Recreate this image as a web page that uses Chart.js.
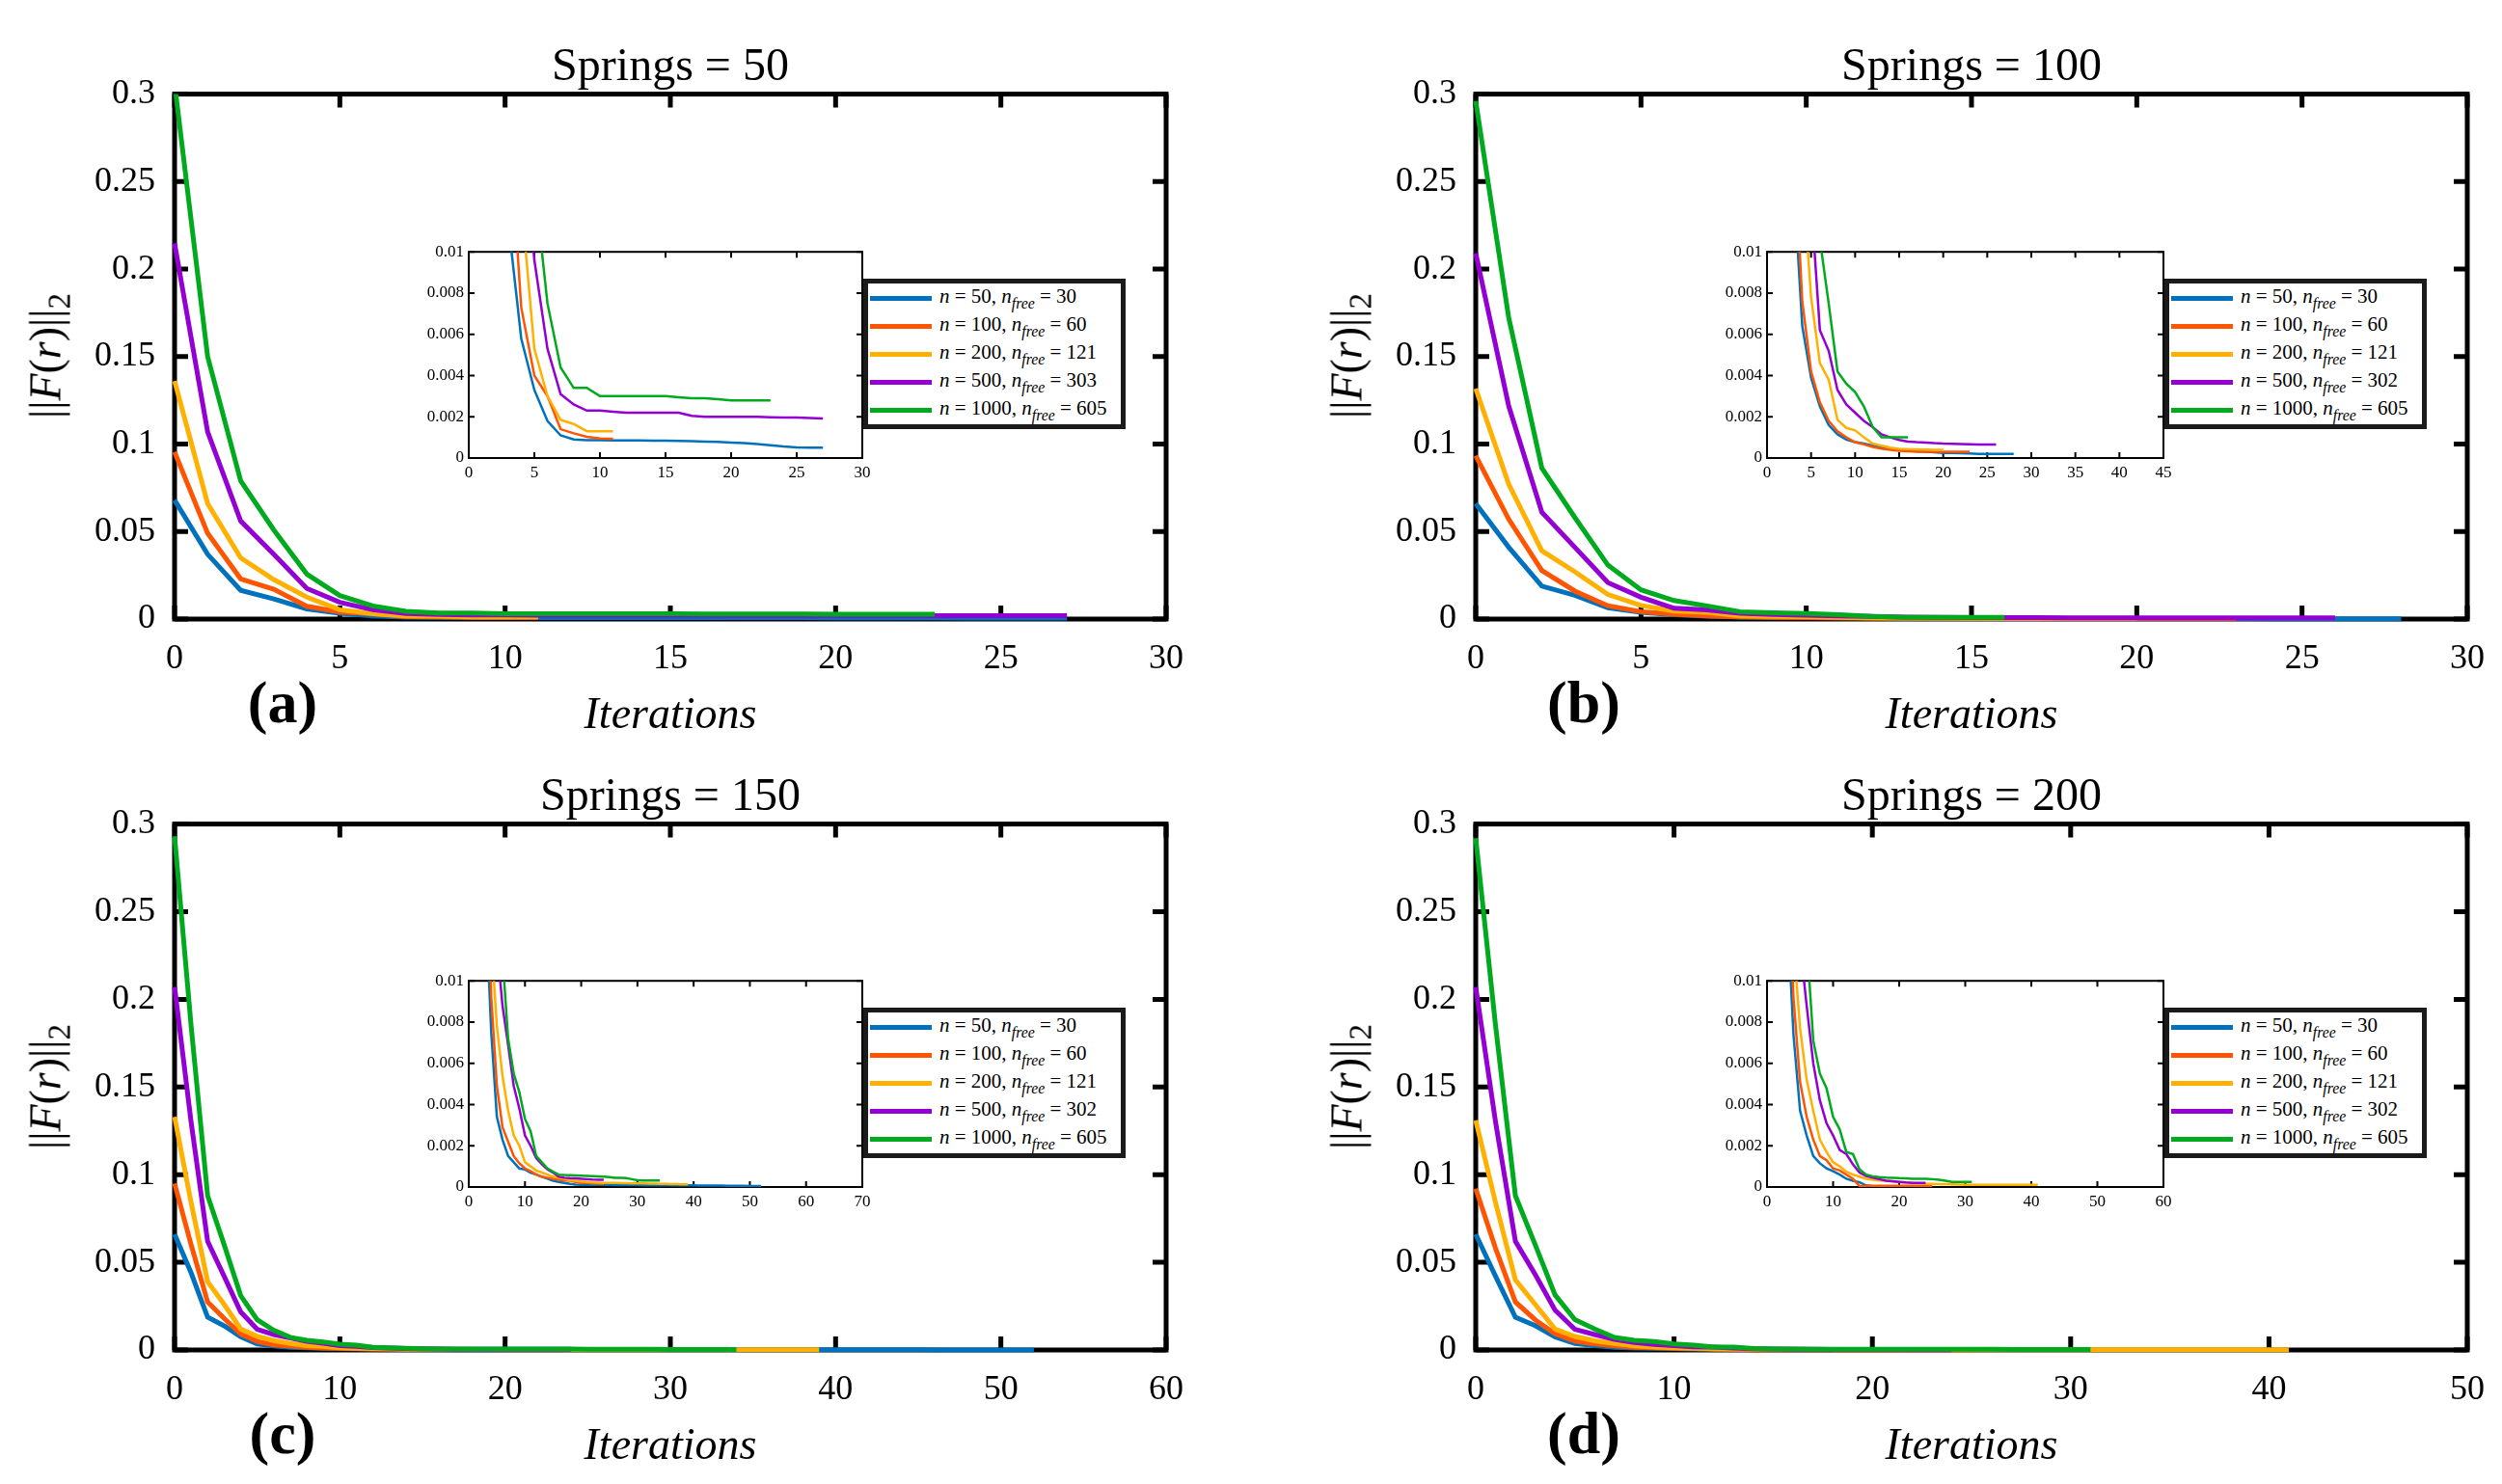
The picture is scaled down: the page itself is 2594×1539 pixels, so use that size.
<!DOCTYPE html>
<html>
<head>
<meta charset="utf-8">
<script src="https://cdn.jsdelivr.net/npm/chart.js@4.4.1/dist/chart.umd.min.js"></script>
<style>
  body { margin: 0; background: #fff; }
  #fig { position: relative; width: 2594px; height: 1539px; background: #fff; overflow: hidden;
         font-family: "Liberation Serif", "Times New Roman", serif; color: #000; }
  canvas { position: absolute; }
  .lbl { position: absolute; white-space: nowrap; transform: translate(-50%, -50%); line-height: 1; }
  .title { font-size: 48px; }
  .xlab { font-size: 46px; font-style: italic; }
  .tag { font-size: 62px; font-weight: bold; }
  .ylab { font-size: 46px; transform: translate(-50%, -50%) rotate(-90deg); }
  .ylab sub { font-size: 0.72em; vertical-align: -0.3em; }
  .legend { position: absolute; background: #fff; border: 5px solid #1b1b1b; box-sizing: border-box; padding-top: 1px; }
  .legend .row { display: flex; align-items: center; height: 29px; font-size: 21px; white-space: nowrap; }
  .legend .swatch { width: 64px; height: 5px; margin-left: 2px; margin-right: 8px; flex: none; }
  .legend sub { font-size: 0.75em; vertical-align: -0.35em; }
</style>
</head>
<body>
<div id="fig"></div>
<script>
// series colours, same order in every panel
const colors = ['#0072BD', '#FF5500', '#FFB000', '#9400D3', '#00AA1E'];
const nValues = [50, 100, 200, 500, 1000];
const nFreeA = [30, 60, 121, 303, 605];
const nFreeBCD = [30, 60, 121, 302, 605];

// Springs = 50, residual per iteration (iteration = index)
const a50 = [0.068, 0.037, 0.0164, 0.0115, 0.0058, 0.0033, 0.0018, 0.0011, 0.0009, 0.00087, 0.00086, 0.00085, 0.00085, 0.00085, 0.00084, 0.00084, 0.00083, 0.00082, 0.0008, 0.00078, 0.00075, 0.00072, 0.00068, 0.00062, 0.00056, 0.00052, 0.0005, 0.0005];
const a100 = [0.0955, 0.049, 0.023, 0.017, 0.0073, 0.004, 0.003, 0.0014, 0.0012, 0.00103, 0.00095, 0.00093];
const a200 = [0.136, 0.066, 0.035, 0.0226, 0.0125, 0.0053, 0.003, 0.00185, 0.00165, 0.0013, 0.0013, 0.0013];
const a500 = [0.2147, 0.107, 0.056, 0.037, 0.0175, 0.0096, 0.0053, 0.0031, 0.0026, 0.0023, 0.0023, 0.00225, 0.0022, 0.0022, 0.0022, 0.0022, 0.0022, 0.00205, 0.002, 0.002, 0.002, 0.002, 0.002, 0.00198, 0.00197, 0.00197, 0.00194, 0.00192];
const a1000 = [0.306, 0.150, 0.079, 0.051, 0.0257, 0.0134, 0.0075, 0.0044, 0.0034, 0.0034, 0.003, 0.003, 0.003, 0.003, 0.003, 0.003, 0.00295, 0.0029, 0.0029, 0.00285, 0.0028, 0.0028, 0.0028, 0.0028];

// Springs = 100
const b50 = [0.066, 0.041, 0.0188, 0.0136, 0.0064, 0.0039, 0.0025, 0.0016, 0.00115, 0.0009, 0.00077, 0.0007, 0.0006, 0.0005, 0.00045, 0.0004, 0.00035, 0.00032, 0.0003, 0.00028, 0.00025, 0.00024, 0.00023, 0.00022, 0.0002, 0.0002, 0.0002, 0.0002, 0.0002];
const b100 = [0.0933, 0.057, 0.0278, 0.016, 0.0076, 0.0042, 0.0027, 0.0018, 0.0013, 0.001, 0.00077, 0.00066, 0.00054, 0.00045, 0.0004, 0.00035, 0.00033, 0.00031, 0.0003, 0.0003, 0.0003, 0.0003, 0.0003, 0.0003];
const b200 = [0.1317, 0.077, 0.039, 0.027, 0.014, 0.0078, 0.0046, 0.0038, 0.00185, 0.00146, 0.00134, 0.001, 0.0007, 0.0006, 0.0005, 0.00045, 0.00043, 0.00042, 0.00041, 0.0004, 0.0004];
const b500 = [0.209, 0.1216, 0.061, 0.041, 0.0208, 0.0125, 0.0062, 0.0052, 0.0033, 0.0026, 0.0022, 0.0018, 0.0015, 0.00115, 0.001, 0.00088, 0.0008, 0.00077, 0.00075, 0.00072, 0.0007, 0.00069, 0.00068, 0.00067, 0.00066, 0.00065, 0.00065];
const b1000 = [0.296, 0.172, 0.0863, 0.058, 0.0308, 0.0167, 0.0106, 0.0075, 0.0042, 0.0036, 0.0032, 0.0025, 0.0015, 0.001, 0.001, 0.001, 0.001];

// Springs = 150
const c50 = [0.066, 0.044, 0.0187, 0.0138, 0.0075, 0.0034, 0.0023, 0.0015, 0.0012, 0.0009, 0.00085, 0.0007, 0.0006, 0.0005, 0.0004, 0.0003, 0.00025, 0.0002, 0.00015, 0.00012, 0.0001,
  0.0001, 0.0001, 0.0001, 0.0001, 0.0001, 0.00009, 0.00009, 0.00009, 0.00009, 0.00009, 0.00008, 0.00008, 0.00008, 0.00008, 0.00008, 0.00008, 0.00008, 0.00008, 0.00008, 0.00008,
  0.00007, 0.00007, 0.00007, 0.00007, 0.00007, 0.00006, 0.00006, 0.00006, 0.00006, 0.00005, 0.00005, 0.00005];
const c100 = [0.095, 0.06, 0.0274, 0.018, 0.0092, 0.0049, 0.0029, 0.0022, 0.0015, 0.00115, 0.0009, 0.00077, 0.0006, 0.0005, 0.00045, 0.0004, 0.00035, 0.00032, 0.0003, 0.00025, 0.0002, 0.0002, 0.00018, 0.00016, 0.00015];
const c200 = [0.133, 0.084, 0.039, 0.026, 0.012, 0.0078, 0.0054, 0.0037, 0.0025, 0.002, 0.0012, 0.001, 0.0008, 0.0007, 0.0006, 0.0005, 0.00045, 0.0004, 0.00033, 0.0003, 0.00027, 0.00025, 0.00022, 0.00021, 0.0002,
  0.0002, 0.0002, 0.00019, 0.00019, 0.00018, 0.00018, 0.00017, 0.00016, 0.00016, 0.00015, 0.00015, 0.00014, 0.00014, 0.00013, 0.00013];
const c500 = [0.207, 0.13, 0.062, 0.042, 0.0217, 0.0118, 0.0088, 0.0069, 0.0049, 0.0038, 0.0025, 0.002, 0.0014, 0.0011, 0.00085, 0.0007, 0.0005, 0.00045, 0.00043, 0.00042, 0.0004, 0.00038, 0.00036, 0.00035, 0.00035];
const c1000 = [0.293, 0.185, 0.088, 0.06, 0.031, 0.0173, 0.0112, 0.0072, 0.0055, 0.0046, 0.0033, 0.0027, 0.0015, 0.0012, 0.0009, 0.00074, 0.0006, 0.00058, 0.00057, 0.00056, 0.00055, 0.00054, 0.00053, 0.00052, 0.0005, 0.00048, 0.00045, 0.00044, 0.00043, 0.00038, 0.00033, 0.00032, 0.00032, 0.00032, 0.00032];

// Springs = 200
const d50 = [0.066, 0.042, 0.0187, 0.0139, 0.0074, 0.0037, 0.0025, 0.0015, 0.00115, 0.0009, 0.00077, 0.0006, 0.0004, 0.0003, 0.00023, 0.00008, 0.00003, 0.00002, 0.00002];
const d100 = [0.092, 0.058, 0.0274, 0.0172, 0.0092, 0.0051, 0.0034, 0.0023, 0.0015, 0.0013, 0.0009, 0.0008, 0.0006, 0.0004, 0.00004,
  0.00006, 0.00006, 0.00006, 0.00006, 0.00006, 0.00006, 0.00006, 0.00006, 0.00006, 0.00006, 0.00006];
const d200 = [0.131, 0.084, 0.04, 0.026, 0.0119, 0.0077, 0.0052, 0.0037, 0.0023, 0.0017, 0.0012, 0.001, 0.00074, 0.0006, 0.0005, 0.0004, 0.00035, 0.00032, 0.0003, 0.00027, 0.00025, 0.00022, 0.0002, 0.00018, 0.00016,
  0.00015, 0.00014, 0.00014, 0.00013, 0.00012, 0.0001, 0.0001, 0.0001, 0.0001, 0.0001, 0.0001, 0.0001, 0.0001, 0.0001, 0.0001, 0.0001, 0.0001];
const d500 = [0.207, 0.13, 0.062, 0.043, 0.0227, 0.0118, 0.0088, 0.006, 0.0042, 0.0031, 0.0025, 0.0018, 0.0016, 0.0011, 0.0007, 0.00054, 0.00045, 0.00038, 0.0003, 0.00028, 0.00025, 0.00022, 0.0002, 0.0002, 0.0002];
const d1000 = [0.292, 0.185, 0.088, 0.06, 0.0314, 0.0173, 0.012, 0.0071, 0.0055, 0.0048, 0.0034, 0.0028, 0.0017, 0.0016, 0.00085, 0.0006, 0.00052, 0.00048, 0.00046, 0.00045, 0.00043, 0.00042, 0.0004, 0.0004, 0.0004, 0.00038, 0.00035, 0.0003, 0.00025, 0.00025, 0.00025, 0.00025];

// axis limits
const mainYMax = 0.3, mainYStep = 0.05;
const insetYMax = 0.01, insetYStep = 0.002;
const springs = [50, 100, 150, 200];
const mainXMax = [30, 30, 60, 50];
const mainXStep = [5, 5, 10, 10];
const insetXMax = [30, 45, 70, 60];
const insetXStep = [5, 5, 10, 10];
const tags = ['(a)', '(b)', '(c)', '(d)'];

const panelSeries = [
  [a50, a100, a200, a500, a1000],
  [b50, b100, b200, b500, b1000],
  [c50, c100, c200, c500, c1000],
  [d50, d100, d200, d500, d1000]
];

// layout (pixels) of each panel's plot box and its inset
const layout = [
  { L: 181, T: 96, W: 1028, H: 546, iL: 486, iT: 258, iW: 408, iH: 217 },
  { L: 1530, T: 96, W: 1028, H: 546, iL: 1832, iT: 258, iW: 411, iH: 217 },
  { L: 181, T: 853, W: 1028, H: 547, iL: 486, iT: 1014, iW: 408, iH: 217 },
  { L: 1530, T: 853, W: 1028, H: 547, iL: 1832, iT: 1014, iW: 411, iH: 217 }
];

// box with inward ticks on all four sides, drawn under the lines (like MATLAB)
const framePlugin = {
  id: 'frame',
  beforeDatasetsDraw(chart, args, opts) {
    const { ctx, chartArea: a, scales: { x, y } } = chart;
    ctx.save();
    if (opts.fill) {
      ctx.fillStyle = '#fff';
      ctx.fillRect(a.left, a.top, a.width, a.height);
    }
    ctx.strokeStyle = '#000';
    ctx.lineWidth = opts.lw;
    ctx.strokeRect(a.left, a.top, a.width, a.height);
    ctx.lineWidth = opts.tw;
    ctx.beginPath();
    x.ticks.forEach(t => {
      const px = x.getPixelForValue(t.value);
      ctx.moveTo(px, a.bottom); ctx.lineTo(px, a.bottom - opts.tl);
      ctx.moveTo(px, a.top); ctx.lineTo(px, a.top + opts.tl);
    });
    y.ticks.forEach(t => {
      const py = y.getPixelForValue(t.value);
      ctx.moveTo(a.left, py); ctx.lineTo(a.left + opts.tl, py);
      ctx.moveTo(a.right, py); ctx.lineTo(a.right - opts.tl, py);
    });
    ctx.stroke();
    ctx.restore();
  }
};

const fig = document.getElementById('fig');

function addLabel(cls, html, x, y) {
  const d = document.createElement('div');
  d.className = 'lbl ' + cls;
  d.innerHTML = html;
  d.style.left = x + 'px';
  d.style.top = y + 'px';
  fig.appendChild(d);
}

function fmt(v) {
  return String(+v.toFixed(4));
}

function makeChart(box, o, series, lineW, frame) {
  const cv = document.createElement('canvas');
  const w = o.yW + box.W + o.padR;
  const h = o.padT + box.H + o.xH;
  cv.width = w; cv.height = h;
  cv.style.left = (box.L - o.yW) + 'px';
  cv.style.top = (box.T - o.padT) + 'px';
  cv.style.width = w + 'px';
  cv.style.height = h + 'px';
  fig.appendChild(cv);

  // later series sit on top, as in the original plot
  const datasets = series.map((vals, k) => ({
    data: vals.map((v, i) => ({ x: i, y: v })),
    borderColor: colors[k],
    borderWidth: lineW,
    pointRadius: 0,
    fill: false,
    tension: 0,
    order: series.length - 1 - k,
    clip: o.clip
  }));

  const tickFont = { family: 'Liberation Serif', size: o.fontSize };
  return new Chart(cv, {
    type: 'line',
    data: { datasets },
    options: {
      responsive: false,
      animation: false,
      devicePixelRatio: 1,
      layout: { padding: { top: o.padT, right: o.padR, left: 0, bottom: 0 } },
      plugins: { legend: { display: false }, tooltip: { enabled: false }, frame },
      scales: {
        x: {
          type: 'linear', min: 0, max: o.xMax,
          grid: { display: false, drawTicks: false },
          border: { display: false },
          ticks: { stepSize: o.xStep, color: '#000', font: tickFont, padding: o.xPad, maxRotation: 0, autoSkip: false, callback: fmt },
          afterFit: s => { s.height = o.xH; }
        },
        y: {
          type: 'linear', min: 0, max: o.yMax,
          grid: { display: false, drawTicks: false },
          border: { display: false },
          ticks: { stepSize: o.yStep, color: '#000', font: tickFont, padding: o.yPad, autoSkip: false, callback: fmt },
          afterFit: s => { s.width = o.yW; }
        }
      }
    },
    plugins: [framePlugin]
  });
}

function legendHtml(nFree) {
  return nValues.map((n, k) =>
    '<div class="row"><span class="swatch" style="background:' + colors[k] + '"></span>' +
    '<span><i>n</i> = ' + n + ', <i>n</i><sub><i>free</i></sub> = ' + nFree[k] + '</span></div>'
  ).join('');
}

layout.forEach((box, p) => {
  const series = panelSeries[p];

  // main axes
  makeChart(box, {
    yW: 120, padT: 40, padR: 50, xH: 90, fontSize: 36,
    xMax: mainXMax[p], xStep: mainXStep[p], yMax: mainYMax, yStep: mainYStep,
    xPad: 20, yPad: 20, clip: { left: 4, top: 0, right: 4, bottom: 6 }
  }, series, 5, { lw: 5, tw: 5, tl: 14, fill: false });

  // zoomed inset
  const ib = { L: layout[p].iL, T: layout[p].iT, W: layout[p].iW, H: layout[p].iH };
  makeChart(ib, {
    yW: 60, padT: 12, padR: 16, xH: 30, fontSize: 17,
    xMax: insetXMax[p], xStep: insetXStep[p], yMax: insetYMax, yStep: insetYStep,
    xPad: 5, yPad: 5, clip: 0
  }, series, 2.5, { lw: 2, tw: 2, tl: 6, fill: true });

  // legend box to the right of the inset
  const lg = document.createElement('div');
  lg.className = 'legend';
  lg.style.left = (ib.L + ib.W + 1) + 'px';
  lg.style.top = (ib.T + 31) + 'px';
  lg.style.width = '272px';
  lg.style.height = '156px';
  lg.innerHTML = legendHtml(p === 0 ? nFreeA : nFreeBCD);
  fig.appendChild(lg);

  const cx = box.L + box.W / 2;
  addLabel('title', 'Springs = ' + springs[p], cx, box.T - 29);
  addLabel('xlab', 'Iterations', cx, box.T + box.H + 98);
  addLabel('tag', tags[p], box.L + 112, box.T + box.H + 86);
  addLabel('ylab', '||<i>F</i>(<i>r</i>)||<sub>2</sub>', box.L - 130, box.T + box.H / 2);
});
</script>
</body>
</html>
